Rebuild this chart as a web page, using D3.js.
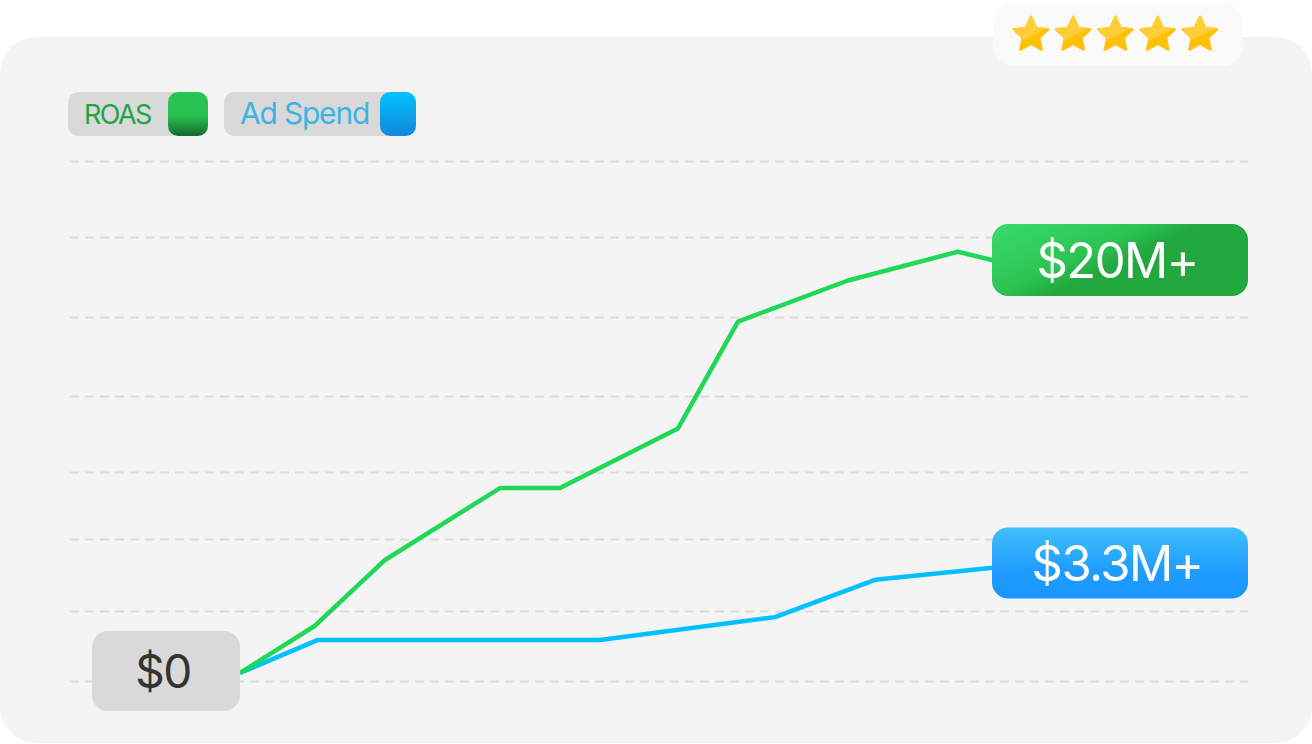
<!DOCTYPE html>
<html>
<head>
<meta charset="utf-8">
<script src="https://cdn.jsdelivr.net/npm/d3@7/dist/d3.min.js"></script>
<style>
  html, body { margin: 0; padding: 0; background: #ffffff; }
  svg { display: block; }
  text { font-family: Inter, "Liberation Sans", Arial, sans-serif; }
</style>
</head>
<body>
<svg id="chart" width="1312" height="744"></svg>
<script>
// ---- data (values in $M, x in weeks since launch) ----
const roasWeeks   = [0, 7.5, 14.5, 26, 32, 43.8, 49.8, 60.8, 71.8, 76];
const roasValues  = [0, 2.3, 5.5, 9.0, 9.0, 11.9, 17.1, 19.1, 20.5, 20.0];
const spendWeeks  = [0, 7.8, 36, 53.5, 63.5, 76];
const spendValues = [0, 1.03, 1.03, 1.74, 2.9, 3.3];
const gridValues  = [24.9, 21.2, 17.3, 13.5, 9.8, 6.5, 3.0, -0.4];
const legendItems = ["ROAS", "Ad Spend"];
const startLabel  = "$0";
const roasLabel   = "$20M+";
const spendLabel  = "$3.3M+";
const starCount   = 5;

const svg = d3.select("#chart");
const defs = svg.append("defs");

// scales
const x = d3.scaleLinear().domain([0, 76]).range([240, 1000]);
const yRoas = d3.scaleLinear().domain([0, 20]).range([673, 262]);
const ySpend = d3.scaleLinear().domain([0, 3.3]).range([673, 567]);

// gradients
function linGrad(id, x1, y1, x2, y2, stops) {
  const g = defs.append("linearGradient").attr("id", id)
    .attr("x1", x1).attr("y1", y1).attr("x2", x2).attr("y2", y2);
  stops.forEach(([o, c]) => g.append("stop").attr("offset", o).attr("stop-color", c));
}
linGrad("gSwatchGreen", 0, 0, 0, 1, [[0, "#29c652"], [0.55, "#27c04f"], [1, "#16692d"]]);
linGrad("gSwatchBlue", 0, 0, 0, 1, [[0, "#02c2ff"], [0.5, "#0aa4ea"], [1, "#1488dc"]]);
linGrad("gLabelGreen", 0, 0, 1, 0.6, [[0, "#37dc6c"], [0.45, "#2cc352"], [0.6, "#22a83f"], [1, "#22a83f"]]);
linGrad("gLabelBlue", 0, 0, 0, 1, [[0, "#40c0fb"], [0.6, "#1f9cff"], [1, "#1a96ff"]]);

// card
svg.append("rect")
  .attr("x", 0).attr("y", 37).attr("width", 1312).attr("height", 706)
  .attr("rx", 36).attr("fill", "#f4f4f4");

// star badge
const badge = svg.append("g");
badge.append("rect")
  .attr("x", 993).attr("y", 3).attr("width", 250).attr("height", 63)
  .attr("rx", 20).attr("fill", "#fafafa");

// five-pointed star outline (outer radius 18, inner 8.6)
const starPts = d3.range(10).map(k => {
  const r = k % 2 === 0 ? 18 : 8.6;
  const a = -Math.PI / 2 + k * Math.PI / 5;
  return [r * Math.cos(a), r * Math.sin(a)];
});
const starPath = d3.line().curve(d3.curveLinearClosed)(starPts);
defs.append("clipPath").attr("id", "starClip")
  .append("polygon").attr("points", "-30,-30 30,-30 30,-14 -30,16");

const starX = d3.scaleLinear().domain([0, starCount - 1]).range([1031, 1200]);
d3.range(starCount).forEach(i => {
  const g = badge.append("g").attr("transform", `translate(${starX(i)},35)`);
  g.append("path").attr("d", starPath).attr("fill", "#ffc107")
    .attr("stroke", "#ffc107").attr("stroke-width", 2.5).attr("stroke-linejoin", "round");
  // lighter upper facet
  g.append("g").attr("clip-path", "url(#starClip)")
    .append("path").attr("d", starPath).attr("fill", "#ffcd38")
    .attr("stroke", "#ffcd38").attr("stroke-width", 2.5).attr("stroke-linejoin", "round");
});

// legend
const legendBoxes = [
  { x: 68, w: 140, sw: 40, color: "#23a443", fill: "url(#gSwatchGreen)", size: 27, ls: -1.6 },
  { x: 224, w: 192, sw: 36, color: "#3cb3e3", fill: "url(#gSwatchBlue)", size: 30, ls: -1.2 }
];
legendItems.forEach((name, i) => {
  const b = legendBoxes[i];
  const g = svg.append("g");
  g.append("rect").attr("x", b.x).attr("y", 92).attr("width", b.w).attr("height", 44)
    .attr("rx", 10).attr("fill", "#d9d9d9");
  g.append("rect").attr("x", b.x + b.w - b.sw).attr("y", 92).attr("width", b.sw).attr("height", 44)
    .attr("rx", 10).attr("fill", b.fill);
  g.append("text").attr("x", b.x + 16).attr("y", 124)
    .attr("font-size", b.size).attr("letter-spacing", b.ls)
    .attr("fill", b.color).text(name);
});

// dashed gridlines
svg.append("g").selectAll("line").data(gridValues).join("line")
  .attr("x1", 70).attr("x2", 1248)
  .attr("y1", d => Math.round(yRoas(d)) + 0.5)
  .attr("y2", d => Math.round(yRoas(d)) + 0.5)
  .attr("stroke", "#dcdcdc").attr("stroke-width", 2)
  .attr("stroke-dasharray", "9,6");

// series lines
const roasLine = d3.line().x((d, i) => x(roasWeeks[i])).y(d => yRoas(d));
const spendLine = d3.line().x((d, i) => x(spendWeeks[i])).y(d => ySpend(d));

svg.append("path").datum(spendValues)
  .attr("d", spendLine).attr("fill", "none")
  .attr("stroke", "#00c0ff").attr("stroke-width", 4.5).attr("stroke-linejoin", "round");
svg.append("path").datum(roasValues)
  .attr("d", roasLine).attr("fill", "none")
  .attr("stroke", "#20d858").attr("stroke-width", 4.5).attr("stroke-linejoin", "round");

// value labels
function valueLabel(text, cx, cy, w, h, fill, color, size) {
  const g = svg.append("g");
  g.append("rect").attr("x", cx - w / 2).attr("y", cy - h / 2)
    .attr("width", w).attr("height", h).attr("rx", 16).attr("fill", fill);
  g.append("text").attr("x", cx - 3).attr("y", cy + size * 0.36)
    .attr("text-anchor", "middle").attr("font-size", size)
    .attr("letter-spacing", -1.6).attr("fill", color).text(text);
}
valueLabel(startLabel, 166, 671, 148, 80, "#d9d9d9", "#333333", 46);
valueLabel(roasLabel, 1120, yRoas(20) - 2, 256, 72, "url(#gLabelGreen)", "#ffffff", 49);
valueLabel(spendLabel, 1120, ySpend(3.3) - 4, 256, 71, "url(#gLabelBlue)", "#ffffff", 49);
</script>
</body>
</html>
